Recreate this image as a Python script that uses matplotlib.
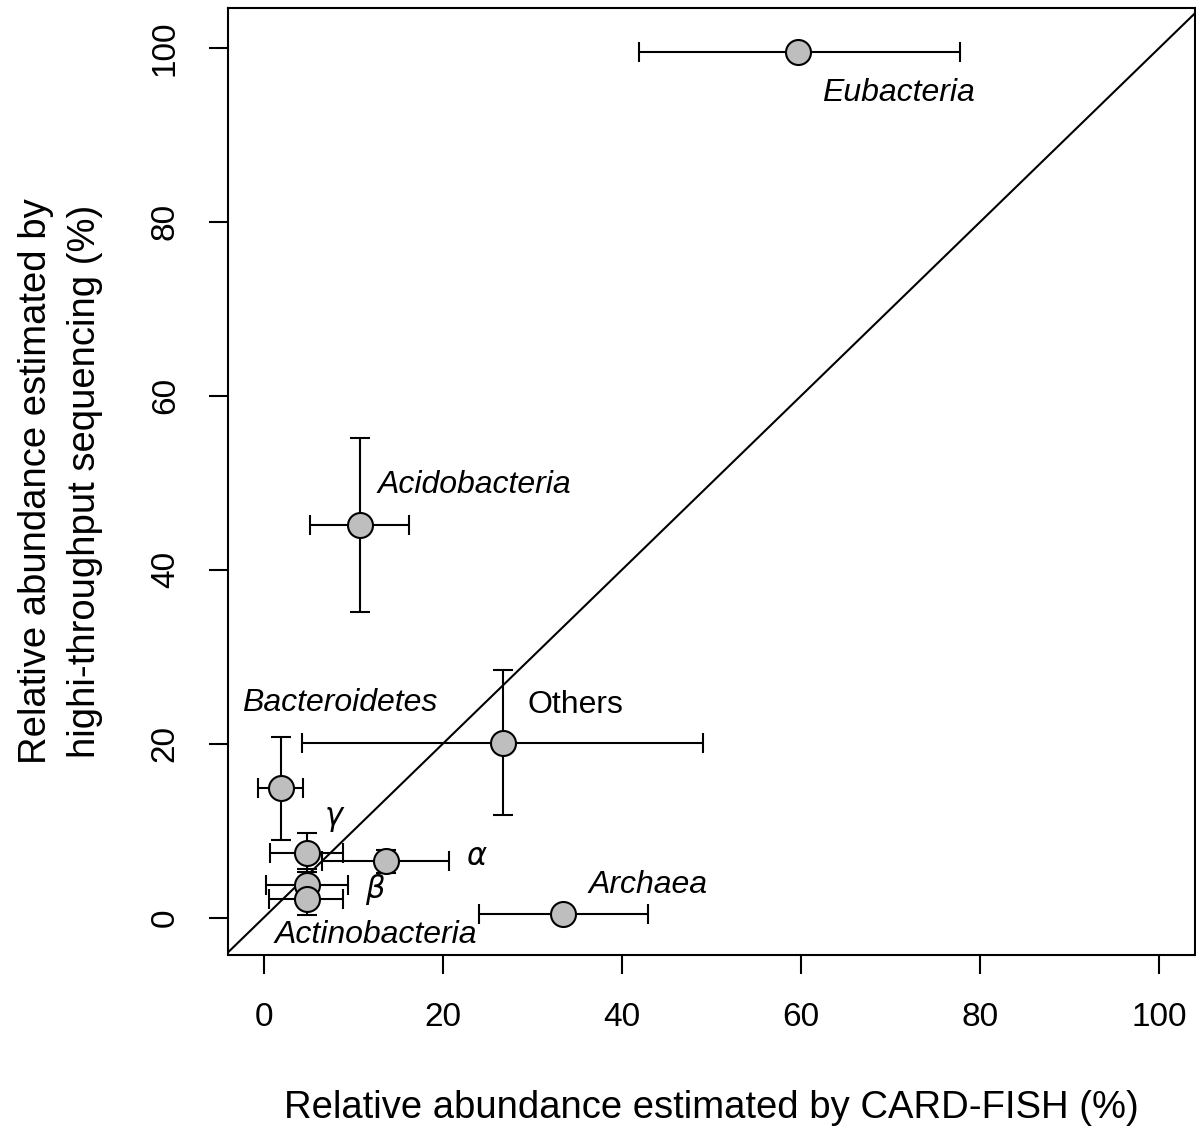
import numpy as np
import matplotlib
matplotlib.use('Agg')
from matplotlib import pyplot as plt

plt.rcParams['font.family'] = ['Liberation Sans', 'DejaVu Sans']

# 数据: CARD-FISH (x) 与 高通量测序 (y) 的相对丰度
groups = ['Eubacteria', 'Acidobacteria', 'Bacteroidetes', 'Others', 'Archaea',
          'alpha', 'gamma', 'beta', 'Actinobacteria']
x = [59.7, 10.7, 1.9, 26.7, 33.4, 13.6, 4.8, 4.8, 4.8]
y = [99.5, 45.1, 14.9, 20.1, 0.45, 6.5, 7.4, 3.8, 2.1]
x_lo = [41.9, 5.2, -0.7, 4.3, 24.0, 6.5, 0.7, 0.2, 0.6]
x_hi = [77.7, 16.2, 4.4, 49.1, 42.9, 20.7, 8.8, 9.4, 8.8]
y_lo = [99.5, 35.1, 8.9, 11.8, 0.45, 5.1, 5.2, 2.0, 0.3]
y_hi = [99.5, 55.1, 20.8, 28.5, 0.45, 7.8, 9.7, 5.6, 3.9]

labels = ['Eubacteria', 'Acidobacteria', 'Bacteroidetes', 'Others', 'Archaea',
          r'$\alpha$', r'$\gamma$', r'$\beta$', 'Actinobacteria']
label_x = [62.3, 12.7, 8.5, 34.8, 42.9, 23.8, 7.9, 12.4, 12.5]
label_y = [94.8, 49.7, 24.7, 24.4, 3.8, 7.0, 11.3, 3.2, -2.0]
label_ha = ['left', 'left', 'center', 'center', 'center', 'center', 'center', 'center', 'center']
label_style = ['italic'] * 3 + ['normal'] + ['italic'] * 5

x = np.array(x)
y = np.array(y)
xerr = np.vstack([x - np.array(x_lo), np.array(x_hi) - x])
yerr = np.vstack([y - np.array(y_lo), np.array(y_hi) - y])

fig = plt.figure(figsize=(11.96, 11.29), dpi=100)
ax = fig.add_axes([228 / 1196, 1 - 955 / 1129, (1195 - 228) / 1196, (955 - 8) / 1129])

ax.plot([-4, 104], [-4, 104], color='black', lw=1.5, zorder=1)

# 先画误差线 (y 方向没有的组不画)
for i in range(len(x)):
    ye = yerr[:, i:i + 1] if yerr[:, i].sum() > 0 else None
    ax.errorbar(x[i], y[i], xerr=xerr[:, i:i + 1], yerr=ye, fmt='none',
                ecolor='black', elinewidth=1.5, capsize=7.5, capthick=1.5, zorder=2)
ax.scatter(x, y, s=18 ** 2, facecolor='#bebebe', edgecolor='black', linewidth=1.5, zorder=3)

for i in range(len(labels)):
    ax.text(label_x[i], label_y[i], labels[i], ha=label_ha[i], va='center',
            fontsize=23 if not labels[i].startswith('$') else 22, style=label_style[i])

ax.set_xlim(-4, 104)
ax.set_ylim(-4.3, 104.6)
ax.set_xticks(np.arange(0, 101, 20))
ax.set_yticks(np.arange(0, 101, 20))
ax.tick_params(labelsize=24, length=14, width=1.5)
ax.tick_params(axis='x', pad=20)
ax.tick_params(axis='y', pad=20)
for lab in ax.get_yticklabels():
    lab.set_rotation(90)
    lab.set_va('center')
for s in ax.spines.values():
    s.set_linewidth(1.5)

ax.set_xlabel('Relative abundance estimated by CARD-FISH (%)', fontsize=27.5, labelpad=41)
ax.set_ylabel('Relative abundance estimated by\nhighi-throughput sequencing (%)', fontsize=27.5,
              labelpad=34, linespacing=1.45)

fig.savefig('out.png', dpi=100)
